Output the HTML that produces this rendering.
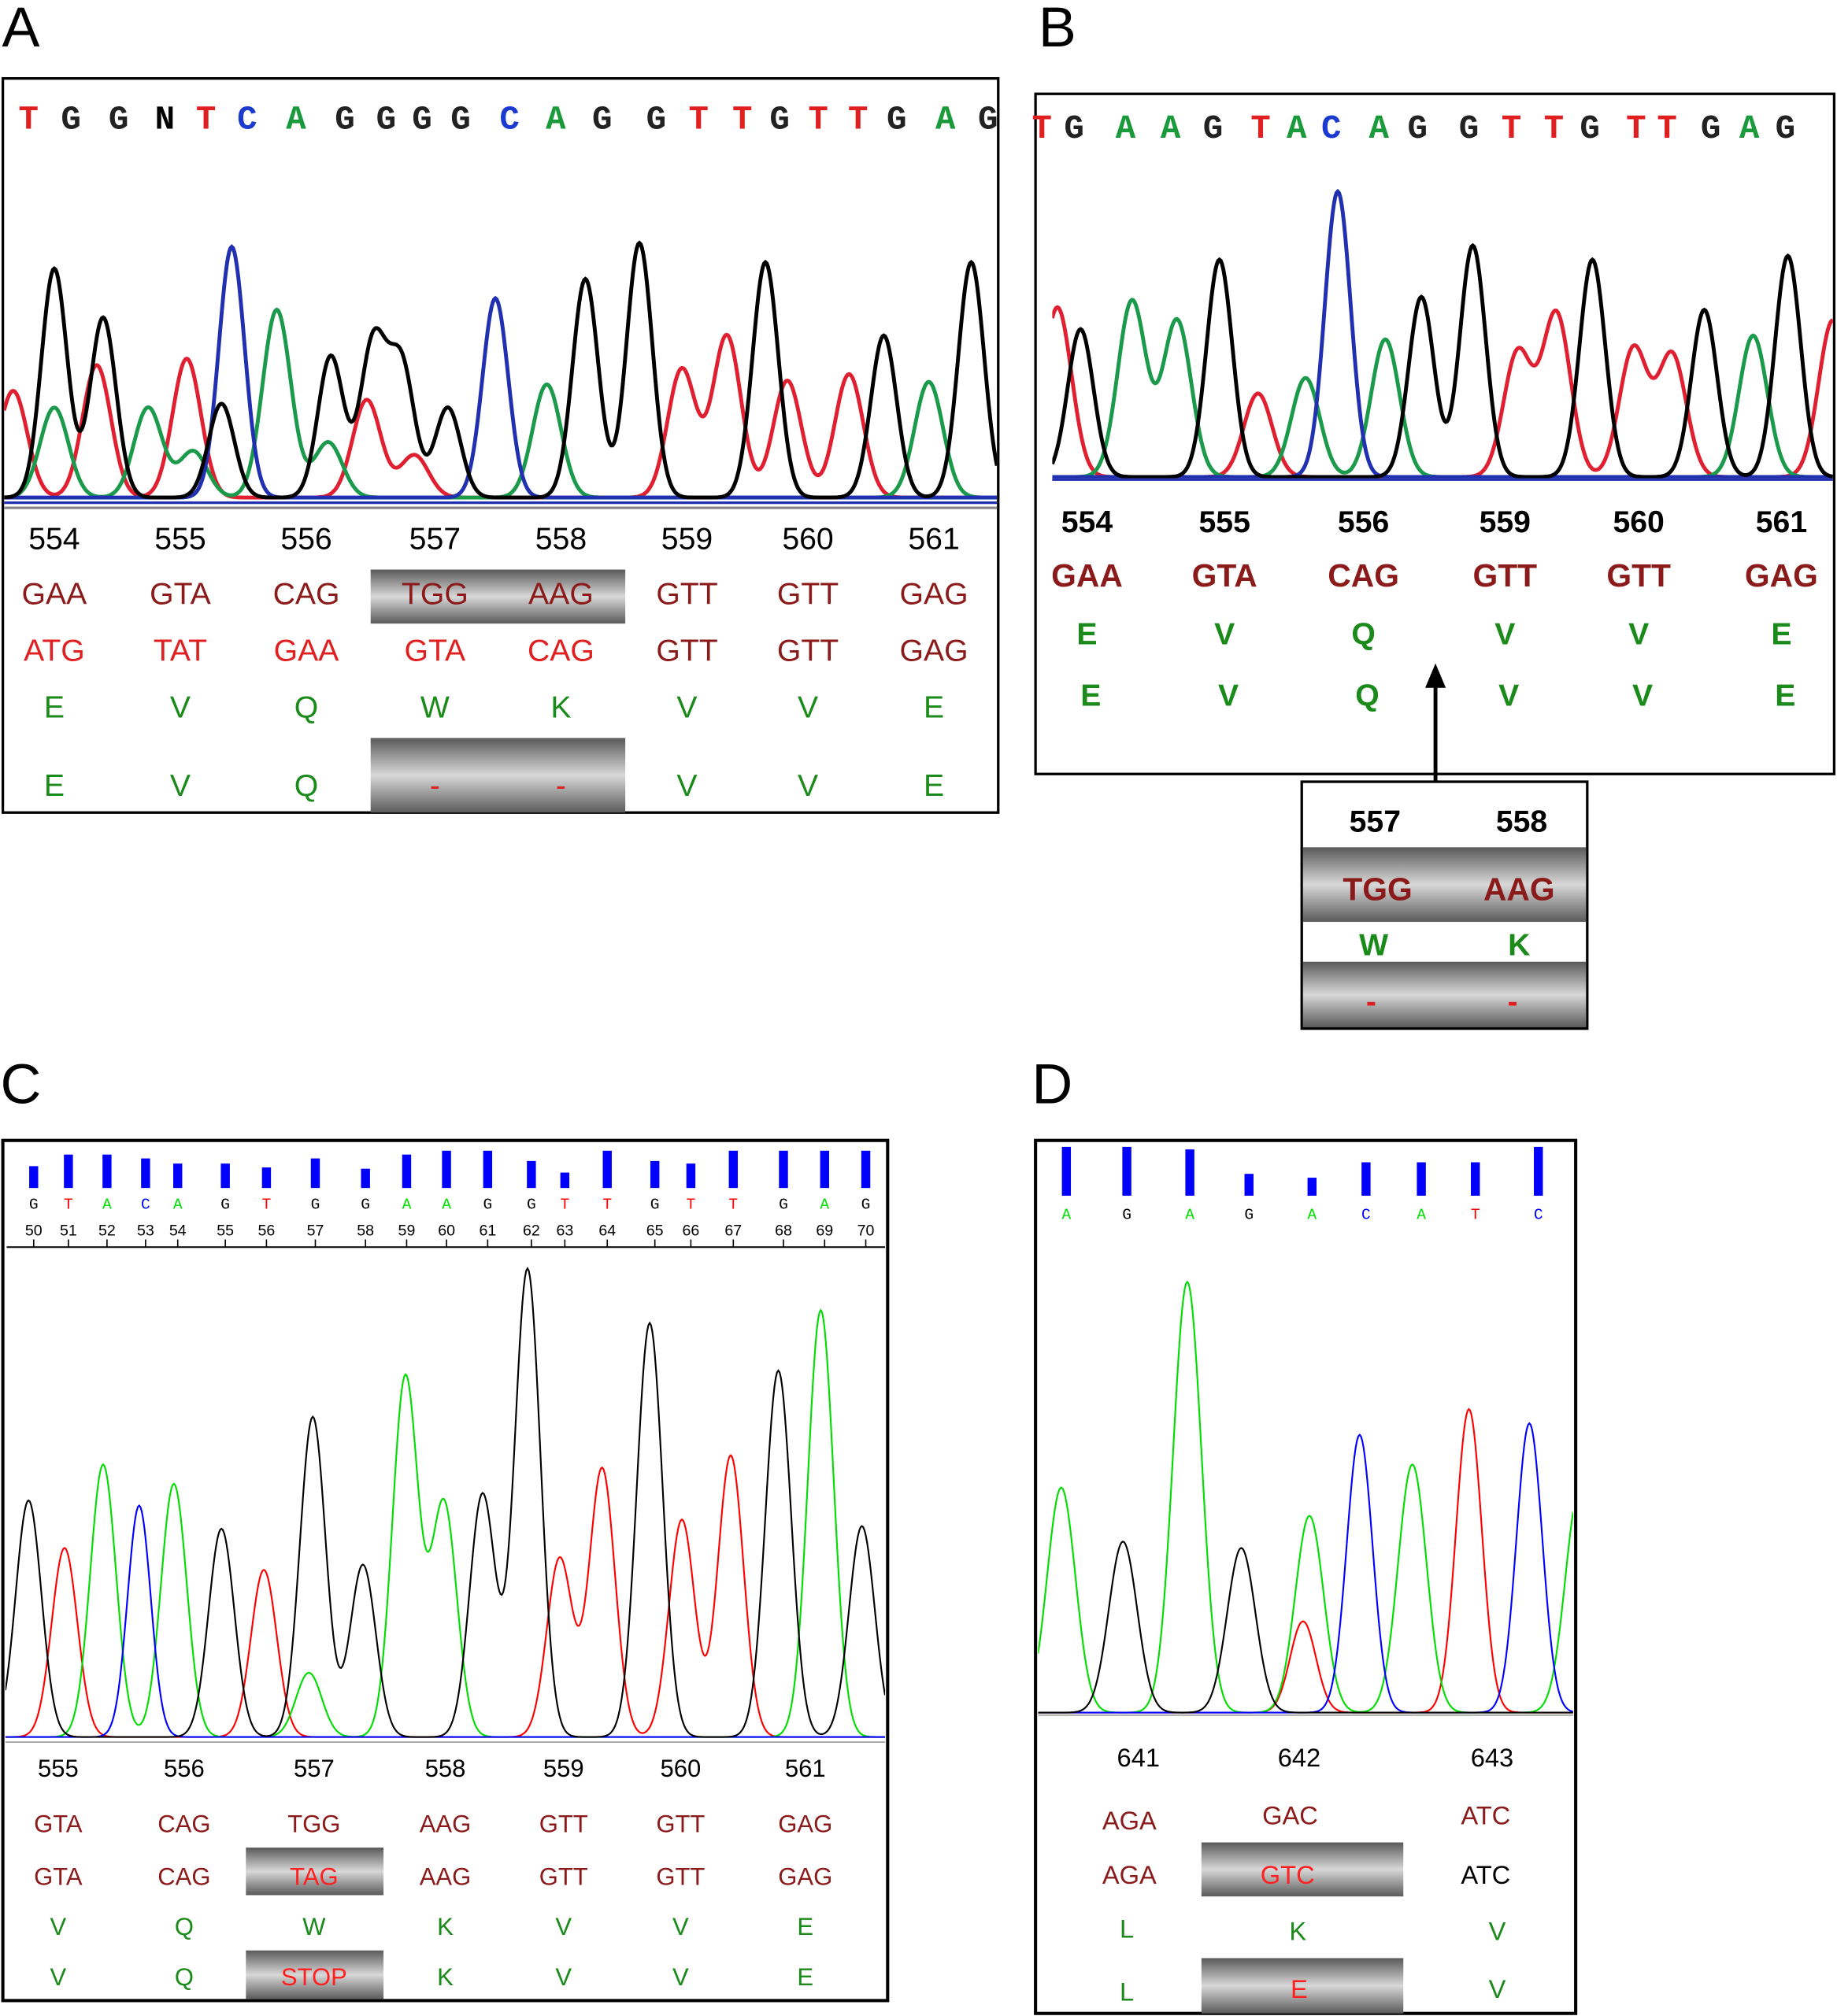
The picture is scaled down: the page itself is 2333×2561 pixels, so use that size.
<!DOCTYPE html>
<html><head><meta charset="utf-8"><style>
html,body{margin:0;padding:0;background:#fff;}
svg{display:block;font-family:"Liberation Sans",Arial,sans-serif;}
</style></head><body>
<svg id="fig" width="2333" height="2561" viewBox="0 0 1428 1568" xmlns="http://www.w3.org/2000/svg">
<defs>
<linearGradient id="gr" x1="0" y1="0" x2="0" y2="1">
<stop offset="0" stop-color="#5a5a5a"/><stop offset="0.5" stop-color="#d8d8d8"/><stop offset="1" stop-color="#5a5a5a"/>
</linearGradient>
</defs>
<g id="root"></g>
</svg>
<script>
// ---- data ----
const aBlackX=[42,80,172,257,290,312,348,455,497,595,687,755];
const aBlackY=[210,248,315,278,268,285,318,218,190,205,262,205];
const aRedX=[10,75,145,285,322,530,565,612,660];
const aRedY=[305,285,280,312,355,288,262,297,292];
const aGreenX=[42,115,150,215,255,425,722];
const aGreenY=[318,318,352,242,345,300,298];
const aBlueX=[180,385];
const aBlueY=[193,233];

const bBlackX=[840,948,1105,1145,1238,1325,1390];
const bBlackY=[257,203,232,192,203,242,200];
const bRedX=[822,978,1180,1210,1270,1300,1425];
const bRedY=[240,307,275,245,272,277,250];
const bGreenX=[880,915,1015,1077,1363];
const bGreenY=[235,250,295,265,262];
const bBlueX=[1040];
const bBlueY=[150];

const cBlackX=[22,172,243,282,375,410,505,605,670];
const cBlackY=[1168,1190,1103,1218,1163,988,1030,1067,1188];
const cRedX=[50,205,435,468,530,568];
const cRedY=[1205,1222,1213,1143,1183,1133];
const cGreenX=[80,135,240,315,345,638];
const cGreenY=[1140,1155,1302,1072,1170,1020];
const cBlueX=[108];
const cBlueY=[1172];

const dGreenX=[825,923,1018,1098,1228];
const dGreenY=[1158,998,1180,1140,1160];
const dBlackX=[873,965];
const dBlackY=[1200,1205];
const dRedX=[1013,1142];
const dRedY=[1262,1097];
const dBlueX=[1057,1189];
const dBlueY=[1117,1108];

const cBarX=[26,53,83,113,138,175,207,245,284,316,347,379,413,439,472,509,537,570,609,641,673];
const cBarTop=[907,898,898,901,905,905,908,901,909,898,895,895,903,912,895,903,905,895,895,895,895];
const cBases="GTACAGTGGAAGGTTGTTGAG";
const cNums=[50,51,52,53,54,55,56,57,58,59,60,61,62,63,64,65,66,67,68,69,70];
const dBarX=[829,876,925,971,1020,1062,1105,1147,1196];
const dBarTop=[892,892,894,913,916,904,904,904,892];
const dBases="AGAGACATC";

// ---- helpers ----
const root=document.getElementById('root');
const NS='http://www.w3.org/2000/svg';
function el(tag,attrs,parent){const e=document.createElementNS(NS,tag);for(const k in attrs)e.setAttribute(k,attrs[k]);(parent||root).appendChild(e);return e;}
function txt(x,y,s,size,fill,opts){const t=el('text',Object.assign({x:x,y:y,'font-size':size,fill:fill,'text-anchor':'middle'},opts||{}));t.textContent=s;return t;}
const baseCol={A:'#1a9a3a',C:'#1a3ad0',G:'#222',T:'#e02020',N:'#000'};
const baseCol2={A:'#00e000',C:'#0000ff',G:'#000',T:'#ff0000'};

function trace(xs,ys,base,sigma,x0,x1,color,w,name,clipId){
  let d='';
  for(let x=x0;x<=x1;x+=1){
    let v=0;
    for(let i=0;i<xs.length;i++){const dx=x-xs[i];v+=(base-ys[i])*Math.exp(-dx*dx/(2*sigma*sigma));}
    d+=(x===x0?'M':'L')+x+' '+(base-v-1).toFixed(1);
  }
  const p=el('path',{d:d,fill:'none',stroke:color,'stroke-width':w,'clip-path':'url(#'+clipId+')'});
  
  
}
function clip(id,x,y,w,h){const c=el('clipPath',{id:id});el('rect',{x:x,y:y,width:w,height:h},c);}

// ---- Panel labels ----
[['A',0,36],['B',806,36],['C',0,858],['D',802,858]].forEach(([s,x,y])=>{
  const t=txt(x+16,y,s,44,'#000');
});

// ---- Panel A ----
const boxA=el('rect',{x:2,y:61,width:774,height:571,fill:'none',stroke:'#000','stroke-width':2});

const seqA="TGGNTCAGGGGCAGGTTGTTGAG";
const seqAX=[22,55,92,128,160,192,230,268,300,328,358,396,432,468,510,543,577,606,636,667,697,735,768];
seqA.split('').forEach((c,i)=>{const t=txt(seqAX[i],100,c,26,baseCol[c],{'font-weight':'bold','font-family':'"Liberation Mono",monospace'});});
clip('cA',3,120,772,270);
trace(aRedX,aRedY,388,11,3,775,'#e02030',3,'trace-a-red','cA');
trace(aGreenX,aGreenY,388,11,3,775,'#1a9a4a',3,'trace-a-green','cA');
trace(aBlueX,aBlueY,388,10,3,775,'#2030b0',3,'trace-a-blue','cA');
trace(aBlackX,aBlackY,388,10,3,775,'#000',3,'trace-a-black','cA');
el('line',{x1:3,y1:391,x2:775,y2:391,stroke:'#2030b0','stroke-width':2});
el('line',{x1:3,y1:395,x2:775,y2:395,stroke:'#888','stroke-width':2});
el('rect',{x:288,y:443,width:198,height:42,fill:'url(#gr)'});
el('rect',{x:288,y:574,width:198,height:58,fill:'url(#gr)'});
const aCols=[42,140,238,338,436,534,628,726];
const aNum=['554','555','556','557','558','559','560','561'];
const aC1=['GAA','GTA','CAG','TGG','AAG','GTT','GTT','GAG'];
const aC2=['ATG','TAT','GAA','GTA','CAG','GTT','GTT','GAG'];
const aAA1=['E','V','Q','W','K','V','V','E'];
const aAA2=['E','V','Q','-','-','V','V','E'];
aCols.forEach((x,i)=>{
  txt(x,427,aNum[i],24,'#000');
  txt(x,470,aC1[i],24,'#8b1a1a');
  txt(x,514,aC2[i],24,i<5?'#e02020':'#8b1a1a');
  txt(x,558,aAA1[i],24,'#1a8a1a');
  txt(x,619,aAA2[i],24,aAA2[i]==='-'?'#e02020':'#1a8a1a');
});

// ---- Panel B ----
const boxB=el('rect',{x:805,y:73,width:621,height:529,fill:'none',stroke:'#000','stroke-width':2});

const seqB="TGAAGTACAGGTTGTTGAG";
const seqBX=[810,835,875,910,943,980,1008,1035,1072,1102,1142,1175,1208,1236,1272,1296,1330,1360,1388];
seqB.split('').forEach((c,i)=>{const t=txt(seqBX[i],107,c,26,baseCol[c],{'font-weight':'bold','font-family':'"Liberation Mono",monospace'});});
clip('cB',818,125,607,247);
trace(bRedX,bRedY,372,11,818,1425,'#e02030',3,'trace-b-red','cB');
trace(bGreenX,bGreenY,372,11,818,1425,'#1a9a4a',3,'trace-b-green','cB');
trace(bBlueX,bBlueY,372,10,818,1425,'#2030b0',3,'trace-b-blue','cB');
trace(bBlackX,bBlackY,372,10,818,1425,'#000',3,'trace-b-black','cB');
el('line',{x1:818,y1:373,x2:1425,y2:373,stroke:'#2030b0','stroke-width':2});
const bCols=[845,952,1060,1170,1274,1385];
const bNum=['554','555','556','559','560','561'];
const bC=['GAA','GTA','CAG','GTT','GTT','GAG'];
const bAA=['E','V','Q','V','V','E'];
bCols.forEach((x,i)=>{
  txt(x,414,bNum[i],24,'#000',{'font-weight':'bold'});
  txt(x,456,bC[i],25,'#8b1a1a',{'font-weight':'bold'});
  txt(x,501,bAA[i],24,'#1a8a1a',{'font-weight':'bold'});
  txt(x+3,549,bAA[i],24,'#1a8a1a',{'font-weight':'bold'});
});
el('line',{x1:1116,y1:608,x2:1116,y2:532,stroke:'#000','stroke-width':3});
el('polygon',{points:'1108,535 1124,535 1116,516',fill:'#000'});
const inset=el('rect',{x:1012,y:608,width:222,height:192,fill:'none',stroke:'#000','stroke-width':2});

el('rect',{x:1013,y:659,width:220,height:58,fill:'url(#gr)'});
el('rect',{x:1013,y:748,width:220,height:51,fill:'url(#gr)'});
txt(1069,647,'557',24,'#000',{'font-weight':'bold'});
txt(1183,647,'558',24,'#000',{'font-weight':'bold'});
txt(1071,700,'TGG',25,'#8b1a1a',{'font-weight':'bold'});
txt(1181,700,'AAG',25,'#8b1a1a',{'font-weight':'bold'});
txt(1068,743,'W',24,'#1a8a1a',{'font-weight':'bold'});
txt(1181,743,'K',24,'#1a8a1a',{'font-weight':'bold'});
txt(1066,787,'-',24,'#e02020',{'font-weight':'bold'});
txt(1176,787,'-',24,'#e02020',{'font-weight':'bold'});

// ---- Panel C ----
const boxC=el('rect',{x:2,y:887,width:688,height:669,fill:'none',stroke:'#000','stroke-width':2.5});

cBarX.forEach((x,i)=>{
  const b=el('rect',{x:x-3.5,y:cBarTop[i],width:7,height:924-cBarTop[i],fill:'#0000ff'});
  
  txt(x,940,cBases[i],12,baseCol2[cBases[i]],{'font-family':'"Liberation Mono",monospace'});
  txt(x,961,String(cNums[i]),12,'#000');
  el('line',{x1:x,y1:964,x2:x,y2:970,stroke:'#000','stroke-width':1});
});
el('line',{x1:5,y1:970,x2:688,y2:970,stroke:'#000','stroke-width':1.2});
clip('cC',4,975,684,380);
trace(cRedX,cRedY,1352,10,4,688,'#ff0000',1.3,'trace-c-red','cC');
trace(cGreenX,cGreenY,1352,10,4,688,'#00dd00',1.3,'trace-c-green','cC');
trace(cBlueX,cBlueY,1352,9,4,688,'#0000ff',1.3,'trace-c-blue','cC');
trace(cBlackX,cBlackY,1352,10,4,688,'#000',1.3,'trace-c-black','cC');
el('line',{x1:4,y1:1355,x2:688,y2:1355,stroke:'#999','stroke-width':1});
el('rect',{x:191,y:1437,width:107,height:37,fill:'url(#gr)'});
el('rect',{x:191,y:1517,width:107,height:38,fill:'url(#gr)'});
const cCols=[45,143,244,346,438,529,626];
const cNum=['555','556','557','558','559','560','561'];
const cC1=['GTA','CAG','TGG','AAG','GTT','GTT','GAG'];
const cC2=['GTA','CAG','TAG','AAG','GTT','GTT','GAG'];
const cAA1=['V','Q','W','K','V','V','E'];
const cAA2=['V','Q','STOP','K','V','V','E'];
cCols.forEach((x,i)=>{
  txt(x,1382,cNum[i],19,'#000');
  txt(x,1425,cC1[i],19,'#8b1a1a');
  txt(x,1466,cC2[i],19,i===2?'#ff2020':'#8b1a1a');
  txt(x,1505,cAA1[i],19,'#1a8a1a');
  txt(x,1544,cAA2[i],19,i===2?'#ff2020':'#1a8a1a');
});

// ---- Panel D ----
const boxD=el('rect',{x:805,y:887,width:420,height:679,fill:'none',stroke:'#000','stroke-width':2.5});

dBarX.forEach((x,i)=>{
  const b=el('rect',{x:x-3.5,y:dBarTop[i],width:7,height:930-dBarTop[i],fill:'#0000ff'});
  
  txt(x,948,dBases[i],12,baseCol2[dBases[i]],{'font-family':'"Liberation Mono",monospace'});
});
clip('cD',807,960,416,375);
trace(dRedX,dRedY,1333,10,807,1223,'#ff0000',1.3,'trace-d-red','cD');
trace(dGreenX,dGreenY,1333,11,807,1223,'#00dd00',1.3,'trace-d-green','cD');
trace(dBlueX,dBlueY,1333,10,807,1223,'#0000ff',1.3,'trace-d-blue','cD');
trace(dBlackX,dBlackY,1333,11,807,1223,'#000',1.3,'trace-d-black','cD');
el('line',{x1:807,y1:1334,x2:1223,y2:1334,stroke:'#999','stroke-width':1});
el('rect',{x:934,y:1433,width:157,height:42,fill:'url(#gr)'});
el('rect',{x:934,y:1523,width:157,height:43,fill:'url(#gr)'});
const dCols=[880,1005,1155];
const dNum=['641','642','643'];
dCols.forEach((x,i)=>txt(x+5,1374,dNum[i],20,'#000'));
txt(878,1423,'AGA',20,'#8b1a1a');txt(1003,1419,'GAC',20,'#8b1a1a');txt(1155,1419,'ATC',20,'#8b1a1a');
txt(878,1465,'AGA',20,'#8b1a1a');txt(1001,1465,'GTC',20,'#ff2020');txt(1155,1465,'ATC',20,'#000');
txt(876,1507,'L',20,'#1a8a1a');txt(1009,1509,'K',20,'#1a8a1a');txt(1164,1509,'V',20,'#1a8a1a');
txt(876,1556,'L',20,'#1a8a1a');txt(1010,1554,'E',20,'#ff2020');txt(1164,1554,'V',20,'#1a8a1a');
</script>
</body></html>
